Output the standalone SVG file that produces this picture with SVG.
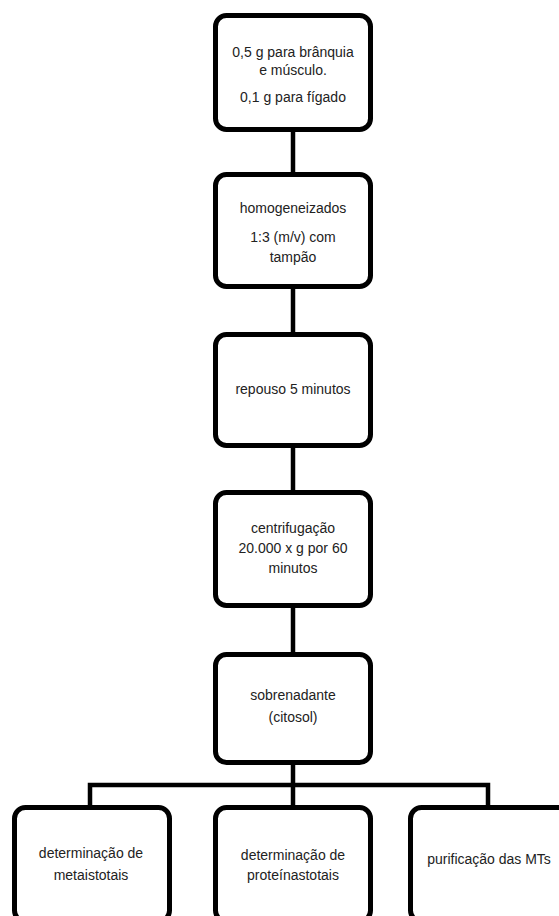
<svg xmlns="http://www.w3.org/2000/svg" width="559" height="916" viewBox="0 0 559 916">
<style>
.box{fill:#fff;stroke:#000;stroke-width:5}
.ln{fill:none;stroke:#000;stroke-width:4.5}
text{font-family:"Liberation Sans",Arial,sans-serif;font-size:14px;fill:#222;text-anchor:middle}
</style>
<rect width="559" height="916" fill="#fff"/>
<g id="connectors">
<line class="ln" x1="293" y1="128" x2="293" y2="175"/>
<line class="ln" x1="293" y1="286" x2="293" y2="335"/>
<line class="ln" x1="293" y1="445" x2="293" y2="493"/>
<line class="ln" x1="293" y1="605" x2="293" y2="655"/>
<line class="ln" x1="293" y1="762" x2="293" y2="808"/>
<polyline class="ln" points="90,808 90,785 488,785 488,808"/>
</g>
<g id="n1">
<rect class="box" x="215.5" y="15.5" width="155" height="114" rx="11"/>
<text x="293" y="57">0,5 g para brânquia</text>
<text x="293" y="75">e músculo.</text>
<text x="293" y="102">0,1 g para fígado</text>
</g>
<g id="n2">
<rect class="box" x="215.5" y="174.5" width="155" height="112" rx="11"/>
<text x="293" y="213">homogeneizados</text>
<text x="293" y="242">1:3 (m/v) com</text>
<text x="293" y="262">tampão</text>
</g>
<g id="n3">
<rect class="box" x="215.5" y="334.5" width="155" height="111" rx="11"/>
<text x="293" y="394">repouso 5 minutos</text>
</g>
<g id="n4">
<rect class="box" x="215.5" y="492.5" width="155" height="113" rx="11"/>
<text x="293" y="533">centrifugação</text>
<text x="293" y="553">20.000 x g por 60</text>
<text x="293" y="573">minutos</text>
</g>
<g id="n5">
<rect class="box" x="215.5" y="654.5" width="155" height="108" rx="11"/>
<text x="293" y="700">sobrenadante</text>
<text x="293" y="722">(citosol)</text>
</g>
<g id="n6">
<rect class="box" x="14.5" y="807.5" width="155" height="114" rx="11"/>
<text x="91" y="858">determinação de</text>
<text x="91" y="880">metaistotais</text>
</g>
<g id="n7">
<rect class="box" x="215.5" y="807.5" width="155" height="114" rx="11"/>
<text x="293" y="860">determinação de</text>
<text x="293" y="880">proteínastotais</text>
</g>
<g id="n8">
<rect class="box" x="410.5" y="807.5" width="160" height="114" rx="11"/>
<text x="489" y="864">purificação das MTs</text>
</g>
</svg>
